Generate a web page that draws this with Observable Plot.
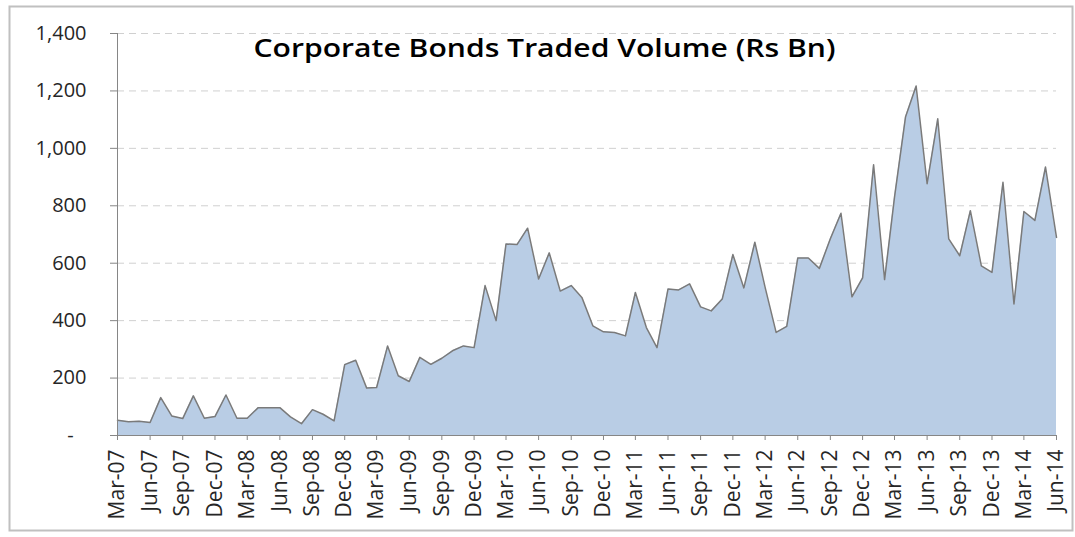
<!DOCTYPE html>
<html>
<head>
<meta charset="utf-8">
<script src="https://cdn.jsdelivr.net/npm/d3@7"></script>
<script src="https://cdn.jsdelivr.net/npm/@observablehq/plot@0.6"></script>
<style>
  html, body { margin: 0; padding: 0; background: #fff; }
  #chart svg { display: block; }
</style>
</head>
<body>
<div id="chart"></div>
<script>
const title = "Corporate Bonds Traded Volume (Rs Bn)";

const months = [
  "Mar-07","Apr-07","May-07","Jun-07","Jul-07","Aug-07","Sep-07","Oct-07","Nov-07","Dec-07",
  "Jan-08","Feb-08","Mar-08","Apr-08","May-08","Jun-08","Jul-08","Aug-08","Sep-08","Oct-08","Nov-08","Dec-08",
  "Jan-09","Feb-09","Mar-09","Apr-09","May-09","Jun-09","Jul-09","Aug-09","Sep-09","Oct-09","Nov-09","Dec-09",
  "Jan-10","Feb-10","Mar-10","Apr-10","May-10","Jun-10","Jul-10","Aug-10","Sep-10","Oct-10","Nov-10","Dec-10",
  "Jan-11","Feb-11","Mar-11","Apr-11","May-11","Jun-11","Jul-11","Aug-11","Sep-11","Oct-11","Nov-11","Dec-11",
  "Jan-12","Feb-12","Mar-12","Apr-12","May-12","Jun-12","Jul-12","Aug-12","Sep-12","Oct-12","Nov-12","Dec-12",
  "Jan-13","Feb-13","Mar-13","Apr-13","May-13","Jun-13","Jul-13","Aug-13","Sep-13","Oct-13","Nov-13","Dec-13",
  "Jan-14","Feb-14","Mar-14","Apr-14","May-14","Jun-14"
];

const volumes = [
  53, 48, 50, 45, 132, 68, 59, 138, 60, 66,
  141, 60, 60, 97, 97, 97, 65, 41, 90, 74, 51, 247,
  262, 165, 167, 312, 208, 188, 272, 248, 269, 295, 312, 306,
  522, 400, 667, 665, 722, 545, 636, 503, 522, 481, 382, 361,
  359, 347, 498, 376, 306, 510, 507, 528, 448, 434, 475, 630,
  514, 673, 516, 359, 380, 618, 618, 582, 685, 774, 483, 549,
  943, 543, 830, 1109, 1217, 877, 1103, 685, 626, 783, 591, 568,
  882, 458, 780, 749, 935, 690
];

const yTicks = [0, 200, 400, 600, 800, 1000, 1200, 1400];

const parseMonth = d3.utcParse("%b-%y");
const fmtMonth = d3.utcFormat("%b-%y");
const data = months.map((m, i) => ({date: parseMonth(m), value: volumes[i]}));
const xTicks = data.filter((d, i) => i % 3 === 0).map(d => d.date);

const FONT = "'Open Sans', 'Liberation Sans', sans-serif";
const axisColor = "#868686";

const chart = Plot.plot({
  width: 1075,
  height: 537,
  marginLeft: 117,
  marginRight: 19,
  marginTop: 33,
  marginBottom: 102,
  style: {fontFamily: FONT, fontSize: "20px", color: "#262626", background: "#fff", overflow: "visible"},
  x: {type: "utc", domain: [data[0].date, data[data.length - 1].date], label: null},
  y: {domain: [0, 1400], label: null},
  marks: [
    Plot.frame({stroke: "#c0c0c0", strokeWidth: 2, insetLeft: -108, insetTop: -27, insetRight: -16, insetBottom: -95}),
    Plot.ruleY(yTicks.filter(d => d > 0), {stroke: "#d0d0d0", strokeDasharray: "7,5", strokeWidth: 1}),
    Plot.areaY(data, {x: "date", y: "value", fill: "#b9cde5"}),
    Plot.lineY(data, {x: "date", y: "value", stroke: "#7a7a7a", strokeWidth: 1.5}),
    Plot.axisY({ticks: yTicks, tickSize: 7, tickPadding: 24, stroke: axisColor, label: null,
      tickFormat: d => d === 0 ? "" : d3.format(",")(d), fontSize: 20}),
    Plot.text([0], {y: d => d, text: () => "-", frameAnchor: "left", dx: -47, textAnchor: "middle", fontSize: 20, fill: "#262626"}),
    Plot.ruleX([data[0].date], {stroke: axisColor}),
    Plot.axisX({ticks: xTicks, tickSize: 5, tickPadding: 9, tickRotate: -90, stroke: axisColor, label: null,
      tickFormat: fmtMonth, fontSize: 21}),
    Plot.ruleY([0], {stroke: axisColor}),
    Plot.text([title], {frameAnchor: "top-left", dx: 136, dy: 15, textAnchor: "start", lineAnchor: "middle",
      fontSize: 25, fontWeight: 600, fill: "#000", className: "chart-title"})
  ]
});

document.getElementById("chart").appendChild(chart);
const t = chart.querySelector(".chart-title text");
if (t) { t.setAttribute("textLength", 582); t.setAttribute("lengthAdjust", "spacingAndGlyphs"); }
</script>
</body>
</html>
